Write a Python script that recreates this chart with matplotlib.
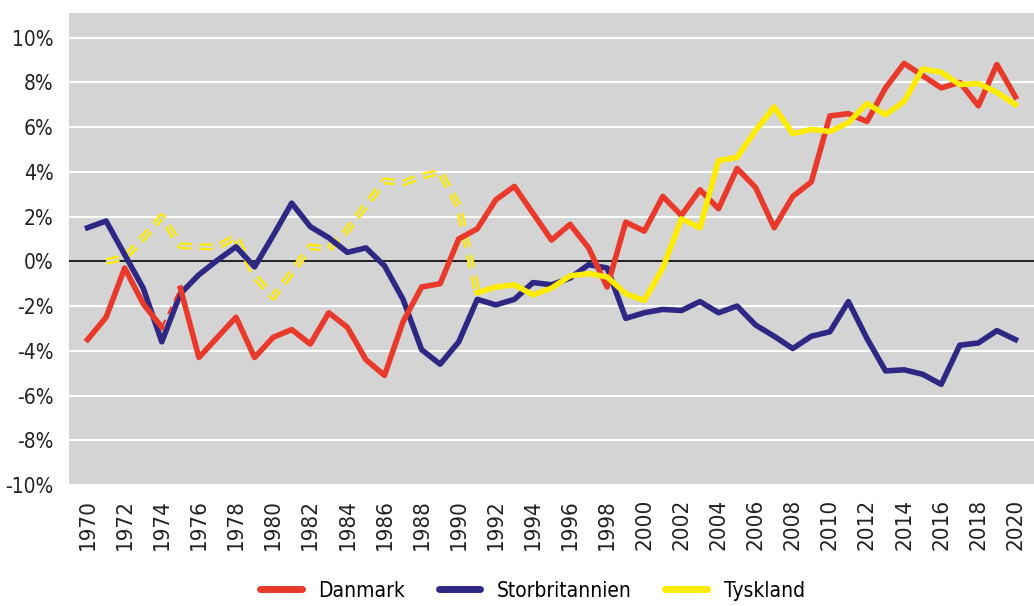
import numpy as np
import matplotlib
matplotlib.use("Agg")
import matplotlib.pyplot as plt
from matplotlib.lines import Line2D

plt.rcParams['font.family'] = ['DejaVu Sans']
plt.rcParams['font.stretch'] = 'condensed'

years = list(range(1970, 2021))

# Danmark
danmark = [-3.5, -2.5, -0.3, -1.9, -2.95, -1.2, -4.3, -3.4, -2.5, -4.3,
           -3.4, -3.05, -3.7, -2.3, -2.95, -4.4, -5.1, -2.7, -1.15, -1.0,
           1.0, 1.45, 2.75, 3.35, 2.15, 0.95, 1.65, 0.6, -1.15, 1.75,
           1.35, 2.9, 2.05, 3.2, 2.35, 4.15, 3.3, 1.5, 2.9, 3.55,
           6.5, 6.6, 6.25, 7.75, 8.85, 8.3, 7.75, 8.0, 6.95, 8.8, 7.35]

# Storbritannien
storbritannien = [1.5, 1.8, 0.3, -1.2, -3.6, -1.45, -0.6, 0.05, 0.65, -0.25,
                  1.15, 2.6, 1.55, 1.05, 0.4, 0.6, -0.2, -1.7, -3.95, -4.6,
                  -3.6, -1.7, -1.95, -1.7, -0.95, -1.05, -0.75, -0.15, -0.3, -2.55,
                  -2.3, -2.15, -2.2, -1.8, -2.3, -2.0, -2.85, -3.35, -3.9, -3.35,
                  -3.15, -1.8, -3.45, -4.9, -4.85, -5.05, -5.5, -3.75, -3.65, -3.1, -3.5]

# Tyskland (Vesttyskland 1971-1991 stiplet)
tysk_years_old = list(range(1971, 1992))
tyskland_old = [0.0, 0.15, 1.05, 2.0, 0.7, 0.65, 0.65, 1.1, -0.65, -1.6,
                -0.5, 0.65, 0.55, 1.4, 2.5, 3.6, 3.5, 3.8, 4.0, 2.45, -1.4]
tysk_years = list(range(1991, 2021))
tyskland = [-1.4, -1.15, -1.05, -1.5, -1.2, -0.65, -0.55, -0.7, -1.45, -1.75,
            -0.3, 1.9, 1.5, 4.5, 4.65, 5.85, 6.9, 5.7, 5.9, 5.8,
            6.2, 7.05, 6.55, 7.15, 8.6, 8.45, 7.9, 7.95, 7.55, 7.0]

red = "#e8392a"
blue = "#2e2884"
yellow = "#ffec00"
bg = "#d4d4d4"

fig = plt.figure(figsize=(10.34, 6.06), dpi=100)
ax = fig.add_axes([69/1034, 1-485/606, 1-69/1034, (485-13)/606])
ax.set_facecolor(bg)

for y in range(-10, 12, 2):
    if y != 0:
        ax.axhline(y, color="white", lw=1.5, zorder=1)
ax.axhline(0, color="black", lw=1.2, zorder=2)

# Tyskland stiplet dobbeltlinje
ax.plot(tysk_years_old, tyskland_old, color=yellow, lw=4.8,
        dashes=(2.0, 1.2), zorder=3)
ax.plot(tysk_years_old, tyskland_old, color=bg, lw=1.5,
        dashes=(6.4, 3.84), zorder=3)

# Storbritannien
ax.plot(years, storbritannien, color=blue, lw=4, zorder=4)

# Danmark (brud 1974-75)
ax.plot(years[:5], danmark[:5], color=red, lw=4, zorder=5)
ax.plot(years[4:6], danmark[4:6], color=red, lw=1.5, ls=(0, (4, 3)), zorder=5)
ax.plot(years[5:], danmark[5:], color=red, lw=4, zorder=5)

# Tyskland
ax.plot(tysk_years, tyskland, color=yellow, lw=4, zorder=6)

ax.set_xlim(1969, 2021)
ax.set_ylim(-10, 11.1)
ax.set_yticks(range(-10, 12, 2))
ax.set_yticklabels([f"{v}%" for v in range(-10, 12, 2)], fontsize=15)
ax.set_xticks(range(1970, 2021, 2))
ax.set_xticklabels([str(v) for v in range(1970, 2021, 2)], rotation=90,
                   fontsize=16)
ax.tick_params(length=0, colors="#222222")
ax.tick_params(axis="x", pad=10)
ax.tick_params(axis="y", pad=11)
for s in ax.spines.values():
    s.set_visible(False)

handles = [Line2D([], [], color=red, lw=5, solid_capstyle="round"),
           Line2D([], [], color=blue, lw=5, solid_capstyle="round"),
           Line2D([], [], color=yellow, lw=5, solid_capstyle="round")]
fig.legend(handles, ["Danmark", "Storbritannien", "Tyskland"], loc="lower center",
           bbox_to_anchor=(0.515, -0.022), ncol=3, frameon=False, fontsize=15,
           handlelength=2.0, handletextpad=0.8, columnspacing=1.6)

fig.savefig("out.png", dpi=100)
